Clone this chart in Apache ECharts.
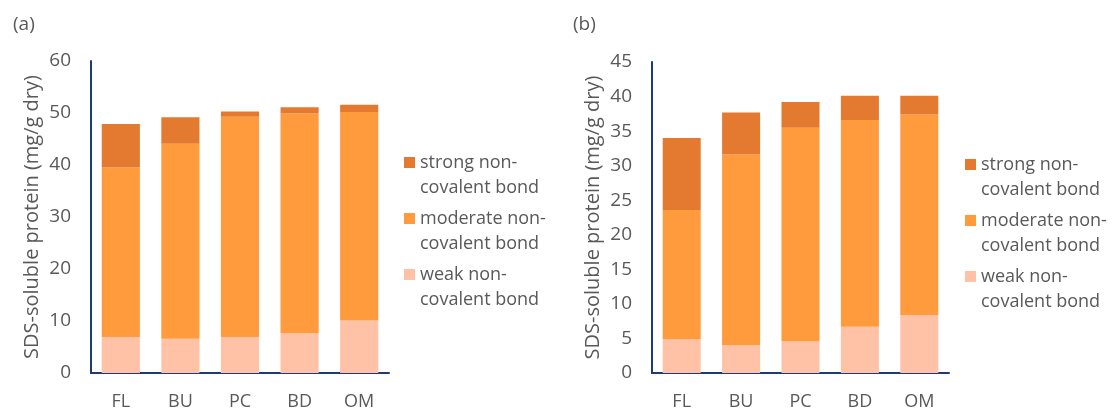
<!DOCTYPE html>
<html>
<head>
<meta charset="utf-8">
<script src="https://cdn.jsdelivr.net/npm/echarts@6/dist/echarts.min.js"></script>
<style>
  html, body { margin: 0; padding: 0; background: #fff; }
  #chart { width: 1115px; height: 412px; }
</style>
</head>
<body>
<div id="chart"></div>
<script>
// Sample categories
const categories = ['FL', 'BU', 'PC', 'BD', 'OM'];

// Panel (a): SDS-soluble protein fractions (mg/g dry)
const weakA     = [6.9, 6.6, 6.9, 7.7, 10.1];
const moderateA = [32.6, 37.5, 42.4, 42.2, 40.1];
const strongA   = [8.4, 5.1, 1.0, 1.2, 1.4];

// Panel (b): SDS-soluble protein fractions (mg/g dry)
const weakB     = [4.9, 4.0, 4.6, 6.7, 8.4];
const moderateB = [18.7, 27.6, 30.9, 29.9, 29.0];
const strongB   = [10.4, 6.1, 3.7, 3.5, 2.7];

const seriesNames = ['strong non-covalent bond', 'moderate non-covalent bond', 'weak non-covalent bond'];
// Legend text wraps after "non-"; a leading blank line keeps the swatch level with the first line
const legendLabels = {
  'strong non-covalent bond': ' \nstrong non-\ncovalent bond',
  'moderate non-covalent bond': ' \nmoderate non-\ncovalent bond',
  'weak non-covalent bond': ' \nweak non-\ncovalent bond'
};

const colors = {
  strong: '#E47A30',
  moderate: '#FF9A3D',
  weak: '#FFC2A6'
};

const FONT = 'Open Sans';
const TEXT = '#595959';
const AXIS = '#1F3A78';

function yAxis(gridIndex, max, interval) {
  return {
    type: 'value', gridIndex, min: 0, max, interval,
    name: 'SDS-soluble protein (mg/g dry)',
    nameLocation: 'middle', nameGap: 49, nameRotate: 90,
    nameTextStyle: { fontFamily: FONT, fontSize: 20, color: TEXT },
    axisLine: { show: true, lineStyle: { color: AXIS, width: 2 } },
    axisTick: { show: false },
    splitLine: { show: false },
    axisLabel: { fontFamily: FONT, fontSize: 19, color: TEXT, margin: 20 }
  };
}

function xAxis(gridIndex) {
  return {
    type: 'category', gridIndex, data: categories,
    axisLine: { show: true, lineStyle: { color: AXIS, width: 2 } },
    axisTick: { show: false },
    axisLabel: { fontFamily: FONT, fontSize: 18, color: TEXT, margin: 20 }
  };
}

function bars(idx, weak, moderate, strong) {
  const stack = 'total' + idx;
  const common = { type: 'bar', stack, xAxisIndex: idx, yAxisIndex: idx, barCategoryGap: '36%' };
  return [
    Object.assign({ name: seriesNames[2], data: weak, itemStyle: { color: colors.weak } }, common),
    Object.assign({ name: seriesNames[1], data: moderate, itemStyle: { color: colors.moderate } }, common),
    Object.assign({ name: seriesNames[0], data: strong, itemStyle: { color: colors.strong } }, common)
  ];
}

function legend(left, top) {
  return {
    orient: 'vertical', left, top, padding: 0,
    data: seriesNames,
    icon: 'rect', itemWidth: 11, itemHeight: 11, itemGap: -19,
    formatter: n => legendLabels[n],
    textStyle: { fontFamily: FONT, fontSize: 18, color: TEXT, lineHeight: 25 },
    selectedMode: false
  };
}

const chart = echarts.init(document.getElementById('chart'), null, { renderer: 'canvas' });
chart.setOption({
  animation: false,
  title: [
    { text: '(a)', left: 8, top: 10, textStyle: { fontFamily: FONT, fontSize: 19, fontWeight: 'normal', color: TEXT } },
    { text: '(b)', left: 568, top: 10, textStyle: { fontFamily: FONT, fontSize: 19, fontWeight: 'normal', color: TEXT } }
  ],
  grid: [
    { left: 91, top: 61, width: 298, height: 312 },
    { left: 652, top: 62, width: 297, height: 311 }
  ],
  xAxis: [xAxis(0), xAxis(1)],
  yAxis: [yAxis(0, 60, 10), yAxis(1, 45, 5)],
  legend: [legend(404, 125), legend(965, 127)],
  series: [].concat(bars(0, weakA, moderateA, strongA), bars(1, weakB, moderateB, strongB))
});
</script>
</body>
</html>
